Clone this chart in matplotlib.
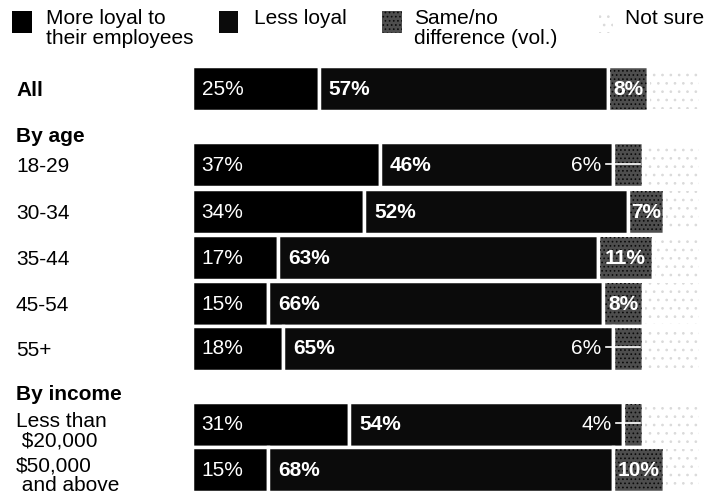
import matplotlib

matplotlib.use("Agg")
import matplotlib.pyplot as plt
from matplotlib.patches import Rectangle
from matplotlib.transforms import blended_transform_factory

plt.rcParams["font.family"] = ["Liberation Sans", "DejaVu Sans"]
plt.rcParams["hatch.linewidth"] = 0.7

# Survey shares per group, percent
rows = ["All", "18-29", "30-34", "35-44", "45-54", "55+",
        "Less than\n $20,000", "$50,000\n and above"]
more_loyal = [25, 37, 34, 17, 15, 18, 31, 15]
less_loyal = [57, 46, 52, 63, 66, 65, 54, 68]
same = [8, 6, 7, 11, 8, 6, 4, 10]
not_sure = [10, 11, 7, 9, 11, 11, 11, 7]
bold_rows = ["All"]
headers = ["By age", "By income"]

legend_labels = ["More loyal to\ntheir employees", "Less loyal",
                 "Same/no\ndifference (vol.)", "Not sure"]

# layout (pixel units, figure is 720x495)
W, H = 720, 495
row_y = [88.5, 164.5, 211, 257, 303, 348, 424, 469]
header_y = [137, 395]
bar_h = 45
x0, x1 = 192, 699
FS = 15

fig = plt.figure(figsize=(W / 100, H / 100), dpi=100)
ax = fig.add_axes([x0 / W, 0, (x1 - x0) / W, 1])
ax.set_xlim(0, 100)
ax.set_ylim(H, 0)
ax.axis("off")

colors = ["#000000", "#0b0b0b", "#4e4e4e", "#ffffff"]
hatches = [None, None, "....", ".."]
hatch_colors = [None, None, "#0a0a0a", "#dadada"]

series = [more_loyal, less_loyal, same, not_sure]
for i, y in enumerate(row_y):
    left = 0
    for k, vals in enumerate(series):
        v = vals[i]
        ax.barh(y, v, left=left, height=bar_h, color=colors[k],
                edgecolor="white", linewidth=2.5)
        if hatches[k]:
            ax.barh(y, v, left=left + 0.4, height=bar_h - 4, fill=False,
                    hatch=hatches[k], edgecolor=hatch_colors[k], linewidth=0)
        left += v

    m, l, s = more_loyal[i], less_loyal[i], same[i]
    ax.text(1.9, y + 1, f"{m}%", color="white", fontsize=FS,
            ha="left", va="center")
    ax.text(m + 2.0, y + 1, f"{l}%", color="white", fontsize=FS,
            fontweight="bold", ha="left", va="center")
    if s <= 6:
        # too narrow: label sits in the previous segment with a leader
        ax.text(m + l - 2.2, y + 1, f"{s}%", color="white", fontsize=FS,
                ha="right", va="center")
        ax.plot([m + l - 1.4, m + l + s - 0.6], [y - 1, y - 1],
                color="white", linewidth=1.2)
    else:
        ax.text(m + l + s / 2, y + 1, f"{s}%", color="white", fontsize=FS,
                fontweight="bold", ha="center", va="center")

# row labels and group headers
tr = blended_transform_factory(fig.transFigure, ax.transData)
for name, y in zip(rows, row_y):
    multi = "\n" in name
    ax.text(16 / W, y + (7 if multi else 2.5), name, transform=tr, fontsize=FS,
            fontweight="bold" if name in bold_rows else "normal",
            ha="left", va="center", linespacing=1.02)
for name, y in zip(headers, header_y):
    ax.text(16 / W, y, name, transform=tr, fontsize=FS,
            fontweight="bold", ha="left", va="center")

# legend
legend_x = [12, 219, 382, 599]
legend_w = [20, 19, 20, 14]
legend_tx = [46, 254, 414, 625]
for k in range(4):
    sx, sw = legend_x[k], legend_w[k]
    box = (sx / W, 1 - 33 / H)
    fig.patches.append(Rectangle(box, sw / W, 22 / H, transform=fig.transFigure,
                                 facecolor=colors[k], edgecolor="none"))
    if hatches[k]:
        fig.patches.append(Rectangle(box, sw / W, 22 / H,
                                     transform=fig.transFigure, fill=False,
                                     hatch=hatches[k], edgecolor=hatch_colors[k],
                                     linewidth=0))
    fig.text(legend_tx[k] / W, 1 - 9 / H, legend_labels[k], fontsize=FS,
             ha="left", va="top", linespacing=1.08)

fig.savefig("out.png", dpi=100, facecolor="white")
